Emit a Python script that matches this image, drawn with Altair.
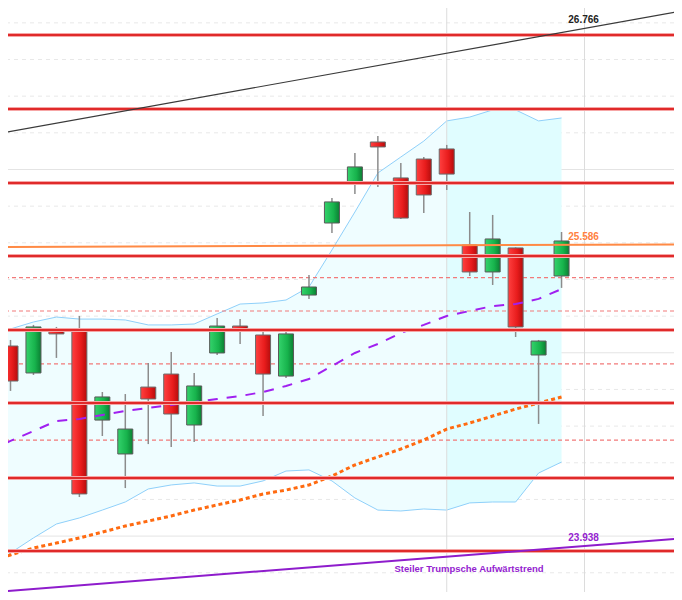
import altair as alt
import pandas as pd

# ---------------- data ----------------
candle_idx = list(range(1, 26))
opens  = [25.037, 24.890, 25.130, 25.124, 24.633, 24.448, 24.813, 24.884, 24.606, 24.999,
          25.146, 25.097, 24.873, 25.315, 25.708, 25.932, 26.150, 25.954, 26.057, 26.112,
          25.588, 25.441, 25.572, 24.988, 25.419]
highs  = [25.070, 25.152, 25.141, 25.201, 24.786, 24.775, 24.944, 25.004, 24.890, 25.190,
          25.184, 25.135, 25.135, 25.424, 25.845, 26.090, 26.183, 26.035, 26.068, 26.134,
          25.768, 25.752, 25.575, 25.070, 25.659]
lows   = [24.792, 24.879, 24.972, 24.213, 24.546, 24.262, 24.502, 24.486, 24.513, 24.988,
          25.048, 24.655, 24.863, 25.294, 25.654, 25.866, 25.905, 25.730, 25.763, 25.888,
          25.419, 25.370, 25.086, 24.612, 25.354]
closes = [24.846, 25.141, 25.103, 24.230, 24.759, 24.584, 24.748, 24.666, 24.819, 25.146,
          25.130, 24.884, 25.103, 25.359, 25.823, 26.014, 26.123, 25.735, 25.861, 25.975,
          25.441, 25.621, 25.141, 25.064, 25.610]

band_idx = list(range(0, 26))
band_upper = [25.097, 25.130, 25.168, 25.195, 25.184, 25.184, 25.179, 25.152, 25.152, 25.157,
              25.212, 25.266, 25.272, 25.288, 25.359, 25.561, 25.768, 25.981, 26.068, 26.155,
              26.265, 26.286, 26.325, 26.325, 26.265, 26.281]
band_lower = [23.815, 23.908, 23.990, 24.066, 24.099, 24.142, 24.186, 24.257, 24.279, 24.290,
              24.273, 24.273, 24.301, 24.355, 24.361, 24.301, 24.208, 24.142, 24.137, 24.148,
              24.142, 24.181, 24.186, 24.186, 24.344, 24.404]
ma_mid = [24.464, 24.519, 24.573, 24.628, 24.639, 24.661, 24.683, 24.699, 24.715, 24.732,
          24.748, 24.764, 24.786, 24.819, 24.857, 24.928, 24.999, 25.048, 25.108, 25.152,
          25.201, 25.228, 25.255, 25.266, 25.294, 25.348]
ma_long = [23.859, 23.897, 23.935, 23.962, 23.990, 24.022, 24.055, 24.082, 24.110, 24.142,
           24.170, 24.197, 24.230, 24.251, 24.279, 24.328, 24.388, 24.432, 24.475, 24.524,
           24.584, 24.617, 24.655, 24.693, 24.726, 24.759]

red_levels = [26.734, 26.330, 25.926, 25.528, 25.124, 24.726, 24.317, 23.919]
red_dashed_levels = [25.410, 25.228, 24.939, 24.524]
grid_minor = [23.8, 24.2, 24.4, 24.6, 24.8, 25.2, 25.4, 25.6, 25.8, 26.2, 26.4, 26.6, 26.8]
grid_major = [24.0, 25.0, 26.0]
vgrid = [20, 26]

trend_x = [0, 31]
trend_black = [26.185, 26.882]
trend_purple = [23.692, 23.995]
trend_orange = [25.576, 25.592]

label_text = ["26.766", "25.586", "23.938"]
label_x = [25.96, 25.96, 25.96]
label_y = [26.818, 25.632, 23.992]
label_color = ["#222222", "#ff7f3f", "#9422d0"]

trend_name = "Steiler Trumpsche Aufwärtstrend"
trend_name_x = 20.97
trend_name_y = 23.820

X_DOMAIN = [0.891, 29.898]
Y_DOMAIN = [23.695, 26.881]
HALF = 0.327

# ---------------- frames ----------------
cdf = pd.DataFrame({"i": candle_idx, "o": opens, "h": highs, "l": lows, "c": closes})
cdf["x1"] = cdf["i"] - HALF
cdf["x2"] = cdf["i"] + HALF
up = cdf[cdf["c"] >= cdf["o"]]
dn = cdf[cdf["c"] < cdf["o"]]

bdf = pd.DataFrame({"i": band_idx, "up": band_upper, "lo": band_lower, "mid": ma_mid, "long": ma_long})

xs = alt.Scale(domain=X_DOMAIN, nice=False, zero=False)
ys = alt.Scale(domain=Y_DOMAIN, nice=False, zero=False)
X = lambda f: alt.X(f, type="quantitative", scale=xs, axis=None)
Y = lambda f: alt.Y(f, type="quantitative", scale=ys, axis=None)

def hlines(vals, **kw):
    d = pd.DataFrame({"v": vals})
    return alt.Chart(d).mark_rule(clip=True, **kw).encode(y=Y("v"))

layers = []
layers.append(hlines(grid_minor, color="#e8e8e8", strokeWidth=1, strokeDash=[4, 4]))
layers.append(hlines(grid_major, color="#e4e4e4", strokeWidth=1))

left = bdf[bdf["i"] <= 20]
right = bdf[bdf["i"] >= 20]
layers.append(alt.Chart(left).mark_area(clip=True, color="#effdff").encode(x=X("i"), y=Y("up"), y2="lo"))
layers.append(alt.Chart(right).mark_area(clip=True, color="#e0fdff").encode(x=X("i"), y=Y("up"), y2="lo"))
layers.append(alt.Chart(bdf).mark_line(clip=True, color="#8fd0fa", strokeWidth=1).encode(x=X("i"), y=Y("up")))
layers.append(alt.Chart(bdf).mark_line(clip=True, color="#8fd0fa", strokeWidth=1).encode(x=X("i"), y=Y("lo")))

vdf = pd.DataFrame({"v": vgrid})
layers.append(alt.Chart(vdf).mark_rule(clip=True, color="#dcdcdc", strokeWidth=1).encode(x=X("v")))

layers.append(hlines(red_dashed_levels, color="#f27a7a", strokeWidth=1.2, strokeDash=[4, 3]))

layers.append(alt.Chart(cdf).mark_rule(clip=True, color="#8c8c8c", strokeWidth=1.5).encode(x=X("i"), y=Y("l"), y2="h"))

red_grad = alt.Gradient(gradient="linear", x1=0, x2=1, y1=0, y2=0,
                        stops=[alt.GradientStop(color="#ff4040", offset=0),
                               alt.GradientStop(color="#e81c1c", offset=0.6),
                               alt.GradientStop(color="#b50d0d", offset=1)])
green_grad = alt.Gradient(gradient="linear", x1=0, x2=1, y1=0, y2=0,
                          stops=[alt.GradientStop(color="#34d36c", offset=0),
                                 alt.GradientStop(color="#17b34c", offset=0.6),
                                 alt.GradientStop(color="#0b7f33", offset=1)])
layers.append(alt.Chart(dn).mark_rect(clip=True, color=red_grad, stroke="#6a6a6a", strokeWidth=1)
              .encode(x=X("x1"), x2="x2", y=Y("o"), y2="c"))
layers.append(alt.Chart(up).mark_rect(clip=True, color=green_grad, stroke="#5a5a5a", strokeWidth=1)
              .encode(x=X("x1"), x2="x2", y=Y("o"), y2="c"))

layers.append(alt.Chart(bdf).mark_line(clip=True, color="#a020f0", strokeWidth=2, strokeDash=[10, 9])
              .encode(x=X("i"), y=Y("mid")))
layers.append(alt.Chart(bdf).mark_line(clip=True, color="#ff6a10", strokeWidth=3, strokeDash=[4, 3])
              .encode(x=X("i"), y=Y("long")))

layers.append(hlines(red_levels, color="#f6a6a6", strokeWidth=4))
layers.append(hlines(red_levels, color="#e02a2a", strokeWidth=2))

tdf = pd.DataFrame({"x": trend_x, "b": trend_black, "p": trend_purple, "o": trend_orange})
layers.append(alt.Chart(tdf).mark_line(clip=True, color="#ff8a45", strokeWidth=2).encode(x=X("x"), y=Y("o")))
layers.append(alt.Chart(tdf).mark_line(clip=True, color="#3a3a3a", strokeWidth=1.2).encode(x=X("x"), y=Y("b")))
layers.append(alt.Chart(tdf).mark_line(clip=True, color="#8e1ccc", strokeWidth=2).encode(x=X("x"), y=Y("p")))

ldf = pd.DataFrame({"t": label_text, "x": label_x, "y": label_y, "col": label_color})
layers.append(alt.Chart(ldf).mark_text(clip=True, font="Liberation Sans", fontWeight="bold", fontSize=10,
                                       align="center", baseline="middle")
              .encode(x=X("x"), y=Y("y"), text="t", color=alt.Color("col", scale=None)))
ndf = pd.DataFrame({"t": [trend_name], "x": [trend_name_x], "y": [trend_name_y]})
layers.append(alt.Chart(ndf).mark_text(clip=True, font="Liberation Sans", fontWeight="bold", fontSize=9.5,
                                       align="center", baseline="middle", color="#9422d0")
              .encode(x=X("x"), y=Y("y"), text="t"))

chart = alt.layer(*layers).properties(
    width=666, height=584, padding=0,
    autosize=alt.AutoSizeParams(type="fit", contains="padding"),
    background="white",
).configure_view(stroke=None)

chart.save("out.html", embed_options={"renderer": "svg", "actions": False})
